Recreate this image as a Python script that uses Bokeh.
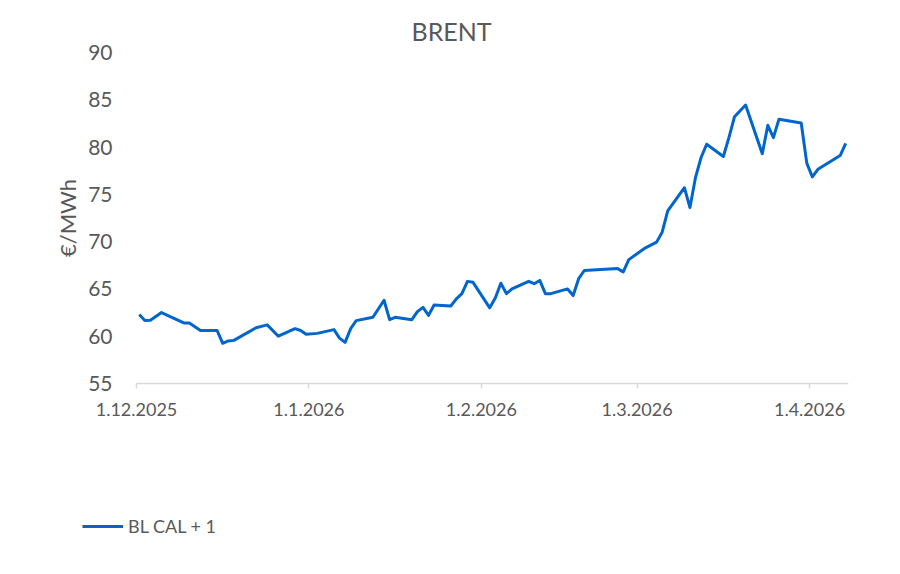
import pandas as pd
from bokeh.plotting import figure
from bokeh.models import FixedTicker, Range1d, Legend, LegendItem
from bokeh.embed import file_html
from bokeh.resources import INLINE

# ---- data ----
dates = [
    "2025-12-01", "2025-12-02", "2025-12-03", "2025-12-05", "2025-12-09", "2025-12-10",
    "2025-12-11", "2025-12-12", "2025-12-15", "2025-12-16", "2025-12-17", "2025-12-18",
    "2025-12-22", "2025-12-24", "2025-12-26", "2025-12-29", "2025-12-30", "2025-12-31",
    "2026-01-02", "2026-01-05", "2026-01-06", "2026-01-07", "2026-01-08", "2026-01-09",
    "2026-01-12", "2026-01-14", "2026-01-15", "2026-01-16", "2026-01-19", "2026-01-20",
    "2026-01-21", "2026-01-22", "2026-01-23", "2026-01-26", "2026-01-27", "2026-01-28",
    "2026-01-29", "2026-01-30", "2026-02-02", "2026-02-03", "2026-02-04", "2026-02-05",
    "2026-02-06", "2026-02-09", "2026-02-10", "2026-02-11", "2026-02-12", "2026-02-13",
    "2026-02-16", "2026-02-17", "2026-02-18", "2026-02-19", "2026-02-25", "2026-02-26",
    "2026-02-27", "2026-03-02", "2026-03-04", "2026-03-05", "2026-03-06", "2026-03-09",
    "2026-03-10", "2026-03-11", "2026-03-12", "2026-03-13", "2026-03-16", "2026-03-17",
    "2026-03-18", "2026-03-20", "2026-03-23", "2026-03-24", "2026-03-25", "2026-03-26",
    "2026-03-30", "2026-03-31", "2026-04-01", "2026-04-02", "2026-04-06", "2026-04-07",
]
bl_cal_1 = [
    62.3, 61.65, 61.7, 62.5, 61.4, 61.4,
    61.0, 60.6, 60.6, 59.25, 59.5, 59.56,
    60.9, 61.2, 60.0, 60.8, 60.6, 60.2,
    60.3, 60.7, 59.8, 59.35, 60.8, 61.65,
    62.0, 63.8, 61.75, 62.0, 61.75, 62.6,
    63.05, 62.2, 63.3, 63.2, 63.95, 64.5,
    65.8, 65.7, 63.0, 64.05, 65.6, 64.5,
    65.0, 65.8, 65.55, 65.9, 64.5, 64.5,
    65.0, 64.3, 66.1, 66.95, 67.15, 66.8,
    68.1, 69.35, 69.95, 71.0, 73.25, 75.7,
    73.6, 76.8, 78.9, 80.3, 79.0, 81.0,
    83.2, 84.45, 79.3, 82.3, 81.0, 82.95,
    82.55, 78.3, 76.85, 77.65, 79.1, 80.4,
]
tick_dates = ["2025-12-01", "2026-01-01", "2026-02-01", "2026-03-01", "2026-04-01"]
tick_labels = ["1.12.2025", "1.1.2026", "1.2.2026", "1.3.2026", "1.4.2026"]
y_ticks = [55, 60, 65, 70, 75, 80, 85, 90]
y_min, y_max = 55, 90
x_start, x_end = "2025-12-01", "2026-04-08"

title_text = "BRENT"
y_label = "€/MWh"
series_name = "BL CAL + 1"

# ---- styling / layout ----
FONT = "Lato"
TEXT = "#595959"
LINE = "#0066CC"
AXIS = "#D9D9D9"
W, H = 900, 574
FRAME_TOP = 42                     # frame starts just under the title
AX_LEFT, AX_RIGHT = 136, 848       # screen x of the date axis ends
AX_TOP, AX_BOTTOM = 52, 383        # screen y of y_max / y_min

# frame covers the canvas below the title; axes are pinned inside it
t0 = pd.Timestamp(x_start)
t1 = pd.Timestamp(x_end)
ms_per_px = (t1 - t0) / (AX_RIGHT - AX_LEFT)
xr = Range1d(t0 - ms_per_px * AX_LEFT, t1)
val_per_px = (y_max - y_min) / (AX_BOTTOM - AX_TOP)
yr = Range1d(y_min - val_per_px * (H - AX_BOTTOM), y_max + val_per_px * (AX_TOP - FRAME_TOP))

x = pd.to_datetime(dates) + pd.Timedelta(hours=12)
tick_ms = [pd.Timestamp(d).value / 1e6 for d in tick_dates]

p = figure(
    width=W, height=H, x_axis_type="datetime",
    output_backend="svg", toolbar_location=None,
    x_range=xr, y_range=yr,
    min_border_left=0, min_border_right=W - AX_RIGHT,
    min_border_top=FRAME_TOP, min_border_bottom=0,
)
p.outline_line_color = None
p.background_fill_color = "white"
p.border_fill_color = "white"
p.grid.visible = False

p.title.text = title_text
p.title.align = "left"
p.title.offset = 411
p.title.standoff = -6
p.title.text_font = FONT
p.title.text_font_size = "25px"
p.title.text_font_style = "normal"
p.title.text_color = TEXT

r = p.line(x, bl_cal_1, line_color=LINE, line_width=3, line_join="round")

# y axis, pinned at the first date and limited to 55..90
ya = p.yaxis[0]
ya.fixed_location = t0.value / 1e6
ya.bounds = (y_min, y_max)
ya.ticker = FixedTicker(ticks=y_ticks)
ya.axis_line_color = None
ya.major_tick_line_color = None
ya.minor_tick_line_color = None
ya.major_label_text_font = FONT
ya.major_label_text_font_size = "21px"
ya.major_label_text_color = TEXT
ya.major_label_standoff = 18
ya.axis_label = y_label
ya.axis_label_text_font = FONT
ya.axis_label_text_font_size = "22px"
ya.axis_label_text_font_style = "normal"
ya.axis_label_text_color = TEXT
ya.axis_label_standoff = 4

# x axis, pinned at y_min and limited to the date span
xa = p.xaxis[0]
xa.fixed_location = y_min
xa.bounds = (t0, t1)
xa.ticker = FixedTicker(ticks=tick_ms)
xa.major_label_overrides = {t: l for t, l in zip(tick_ms, tick_labels)}
xa.axis_line_color = AXIS
xa.axis_line_width = 1.5
xa.major_tick_line_color = AXIS
xa.major_tick_line_width = 1.5
xa.major_tick_in = 0
xa.major_tick_out = 5
xa.minor_tick_line_color = None
xa.major_label_text_font = FONT
xa.major_label_text_font_size = "18px"
xa.major_label_text_color = TEXT
xa.major_label_standoff = 14

legend = Legend(
    items=[LegendItem(label=series_name, renderers=[r])],
    location=(82, 37),
    glyph_width=41, glyph_height=20, label_height=20,
    label_standoff=5, padding=0, margin=0, spacing=0,
    border_line_color=None, background_fill_alpha=0,
    label_text_font=FONT, label_text_font_size="18px", label_text_color=TEXT,
)
p.add_layout(legend, "center")

open("out.html", "w").write(file_html(p, INLINE))
